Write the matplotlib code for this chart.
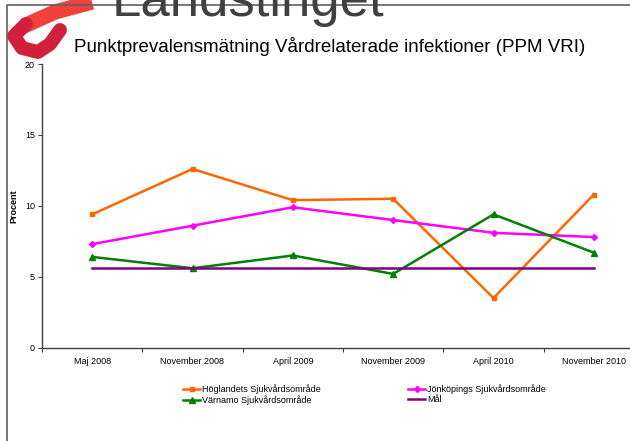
import matplotlib
matplotlib.use("Agg")
import matplotlib.pyplot as plt
from matplotlib.lines import Line2D
from matplotlib.patches import Rectangle

plt.rcParams['font.family'] = ['Liberation Sans', 'DejaVu Sans']

# data
perioder = ['Maj 2008', 'November 2008', 'April 2009', 'November 2009', 'April 2010', 'November 2010']
hoglandet = [9.4, 12.6, 10.4, 10.5, 3.5, 10.8]
jonkoping = [7.3, 8.6, 9.9, 9.0, 8.1, 7.8]
varnamo = [6.4, 5.6, 6.5, 5.2, 9.4, 6.7]
mal = [5.65, 5.65, 5.65, 5.65, 5.65, 5.65]
yticks = [0, 5, 10, 15, 20]

W, H = 630, 441
fig = plt.figure(figsize=(6.3, 4.41), dpi=100)

def fx(px):
    return px / W

def fy(py):
    return 1 - py / H

# logo: red ribbon + Landstinget text (partly hidden)
fig.add_artist(Line2D([fx(92), fx(55), fx(24)], [fy(2), fy(12), fy(26)],
                      transform=fig.transFigure, color='#F2403A', lw=11,
                      solid_capstyle='butt', solid_joinstyle='round'))
fig.add_artist(Line2D([fx(26), fx(14), fx(22), fx(38), fx(50), fx(60)],
                      [fy(24), fy(36), fy(48), fy(52), fy(44), fy(30)],
                      transform=fig.transFigure, color='#D2203C', lw=10,
                      solid_capstyle='round', solid_joinstyle='round'))
fig.text(fx(112), fy(16), 'Landstinget', fontsize=38, color='#404040',
         ha='left', va='baseline')

# white chart area covering lower part of logo
fig.add_artist(Rectangle((fx(57), 0), 1, fy(22), transform=fig.transFigure,
                         facecolor='white', edgecolor='none', zorder=1))
fig.add_artist(Rectangle((fx(9), 0), fx(48), fy(58), transform=fig.transFigure,
                         facecolor='white', edgecolor='none', zorder=1))

# border lines
fig.add_artist(Line2D([fx(7), fx(7), 1], [0, fy(5), fy(5)], transform=fig.transFigure,
                      color='#606060', lw=1.2, zorder=3))

ax = fig.add_axes([fx(42), fy(347.7), 602 / W, (347.7 - 64) / H])
ax.set_zorder(2)
ax.patch.set_alpha(0)

x = list(range(len(perioder)))
l1, = ax.plot(x, hoglandet, color='#FF6600', lw=1.8, marker='s', ms=3.5,
              label='Höglandets Sjukvårdsområde')
l2, = ax.plot(x, jonkoping, color='#FF00FF', lw=1.8, marker='D', ms=3,
              label='Jönköpings Sjukvårdsområde')
l3, = ax.plot(x, varnamo, color='#008000', lw=1.8, marker='^', ms=4,
              label='Värnamo Sjukvårdsområde')
l4, = ax.plot(x, mal, color='#800080', lw=1.8, label='Mål')

ax.set_xlim(-0.5, 5.5)
ax.set_ylim(0, 20)
ax.set_yticks(yticks)
ax.tick_params(axis='y', labelsize=6.5, length=3, width=0.8, color='#404040', pad=2)
ax.set_xticks([i - 0.5 for i in range(len(perioder) + 1)])
ax.set_xticklabels([])
ax.set_xticks(x, minor=True)
ax.set_xticklabels(perioder, minor=True, fontsize=6.5)
ax.tick_params(axis='x', which='major', length=3, width=0.8, color='#404040')
ax.tick_params(axis='x', which='minor', length=0, pad=7)
for s in ['top', 'right']:
    ax.spines[s].set_visible(False)
for s in ['left', 'bottom']:
    ax.spines[s].set_color('#404040')
    ax.spines[s].set_linewidth(1.0)

fig.text(fx(14), fy(206), 'Procent', rotation=90, fontsize=6.5, fontweight='bold',
         ha='center', va='center')
fig.text(fx(330), fy(47), 'Punktprevalensmätning Vårdrelaterade infektioner (PPM VRI)',
         fontsize=13.5, ha='center', va='center', zorder=4)

fig.legend([l1, l3, l2, l4], [l1.get_label(), l3.get_label(), l2.get_label(), l4.get_label()],
           loc='upper left', bbox_to_anchor=(fx(183), fy(384)), ncol=2, frameon=False,
           fontsize=6.5, handlelength=1.9, handletextpad=0.2, columnspacing=9.7,
           labelspacing=0.15, borderpad=0, borderaxespad=0)

fig.savefig('out.png', dpi=100)
